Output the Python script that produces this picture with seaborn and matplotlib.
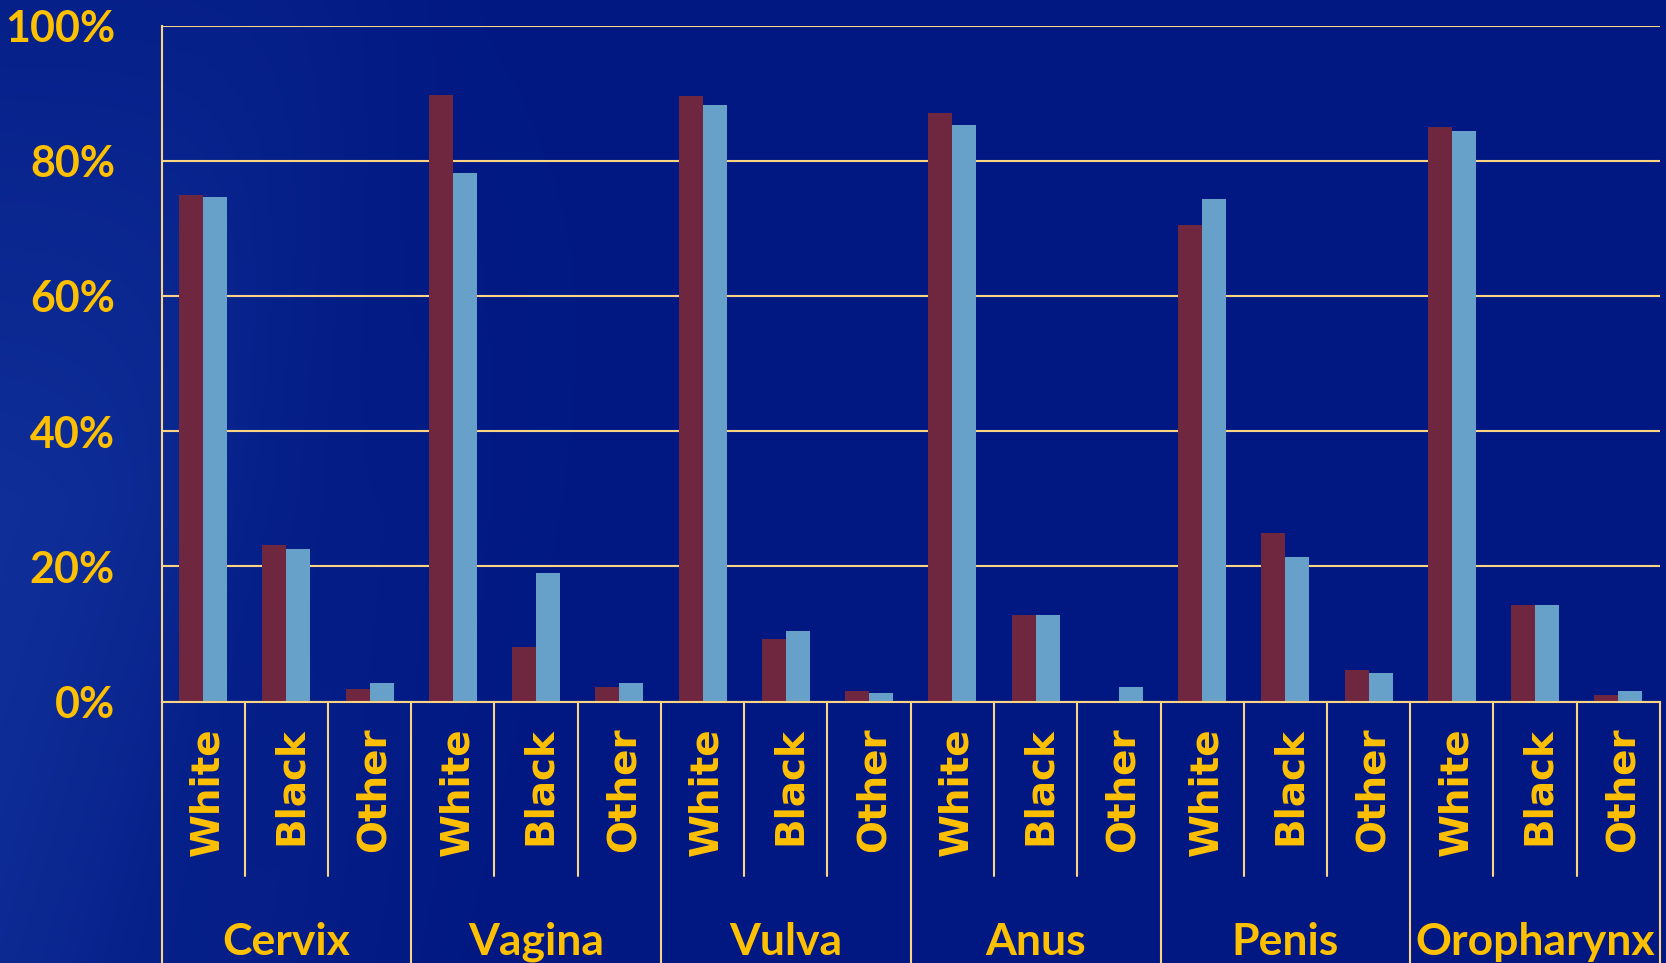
import numpy as np
import pandas as pd
import matplotlib
matplotlib.use("Agg")
import matplotlib.pyplot as plt
import matplotlib.transforms as mtrans
from matplotlib.ticker import FuncFormatter
import seaborn as sns

# data (percent)
sites = ["Cervix", "Vagina", "Vulva", "Anus", "Penis", "Oropharynx"]
races = ["White", "Black", "Other"]
series_names = ["Series 1", "Series 2"]
series_1 = [74.9, 23.2, 1.9, 89.7, 8.1, 2.2, 89.5, 9.2, 1.6,
            87.1, 12.8, 0.0, 70.5, 24.9, 4.6, 85.0, 14.3, 1.0]
series_2 = [74.7, 22.6, 2.8, 78.2, 19.0, 2.8, 88.2, 10.5, 1.3,
            85.3, 12.8, 2.2, 74.4, 21.4, 4.2, 84.4, 14.3, 1.6]
yticks = [0, 20, 40, 60, 80, 100]

keys = [f"{s}|{r}" for s in sites for r in races]
df = pd.DataFrame({
    "key": keys * 2,
    "value": series_1 + series_2,
    "series": [series_names[0]] * len(keys) + [series_names[1]] * len(keys),
})

GOLD = "#FFC000"
LINE = "#FAD383"
RED = "#6E273E"
BLUE = "#67A0C8"

sns.set_style("white")
plt.rcParams["font.family"] = ["Lato", "DejaVu Sans"]

fig = plt.figure(figsize=(16.66, 9.63), dpi=100)

# background gradient: lighter band on the left, behind a soft diagonal
bg = fig.add_axes([0, 0, 1, 1], zorder=-5)
yy, xx = np.mgrid[0:963:400j, 0:1666:700j]
edge = 360 - 0.3 * yy
t = 1 / (1 + np.exp(-(edge - xx) / 60)) * (0.35 + 0.65 * np.clip(yy / 500, 0, 1))
t = t + 0.25 * np.clip(1 - np.abs(xx - (edge + 180)) / 250, 0, 1) * np.clip(yy / 963, 0, 1)
t = np.clip(t, 0, 1)
dark = np.array([0x01, 0x18, 0x82]) / 255
light = np.array([0x10, 0x2F, 0x98]) / 255
img = dark[None, None, :] * (1 - t[..., None]) + light[None, None, :] * t[..., None]
bg.imshow(img, aspect="auto", extent=[0, 1, 0, 1], origin="upper")
bg.axis("off")

ax = fig.add_axes([161.5 / 1666, 1 - 701.5 / 963, (1660 - 161.5) / 1666, (701.5 - 25.5) / 963])
ax.patch.set_alpha(0)

sns.barplot(data=df, x="key", y="value", hue="series", order=keys,
            hue_order=series_names, palette=[RED, BLUE], width=0.575,
            gap=0, saturation=1, edgecolor="none", linewidth=0,
            legend=False, ax=ax)

ax.set_ylim(0, 100)
ax.set_xlim(-0.5, len(keys) - 0.5)
ax.set_yticks(yticks)
ax.yaxis.set_major_formatter(FuncFormatter(lambda v, p: f"{v:.0f}%"))
ax.yaxis.grid(True, color=LINE, lw=1.5)
ax.set_axisbelow(True)
ax.tick_params(axis="y", length=9.5, width=1.5, color=LINE, pad=24,
               labelsize=31, labelcolor=GOLD)
for lab in ax.get_yticklabels():
    lab.set_fontweight("bold")
ax.set_xticks([])
ax.set_xlabel("")
ax.set_ylabel("")
for side in ["top", "right"]:
    ax.spines[side].set_visible(False)
for side in ["left", "bottom"]:
    ax.spines[side].set_color(LINE)
    ax.spines[side].set_linewidth(1.5)

# two-level category axis
axh = 701.5 - 25.5
tr = mtrans.blended_transform_factory(ax.transData, ax.transAxes)
inner_bottom = (701.5 - 876) / axh
outer_bottom = (701.5 - 975) / axh
for i in range(len(keys) + 1):
    b = outer_bottom if i % 3 == 0 else inner_bottom
    ax.plot([i - 0.5, i - 0.5], [0, b], color=LINE, lw=1.5,
            transform=tr, clip_on=False)

sub_top = (701.5 - 727) / axh
for i, k in enumerate(keys):
    ax.text(i + 0.05, sub_top, k.split("|")[1], rotation=90, ha="center",
            va="top", color=GOLD, fontsize=28, fontweight="heavy",
            family=["DejaVu Sans"], transform=tr)

grp_base = (701.5 - 955) / axh
for j, s in enumerate(sites):
    ax.text(3 * j + 1, grp_base, s, ha="center", va="baseline",
            color=GOLD, fontsize=32, fontweight="bold", transform=tr)

fig.savefig("out.png", dpi=100)
